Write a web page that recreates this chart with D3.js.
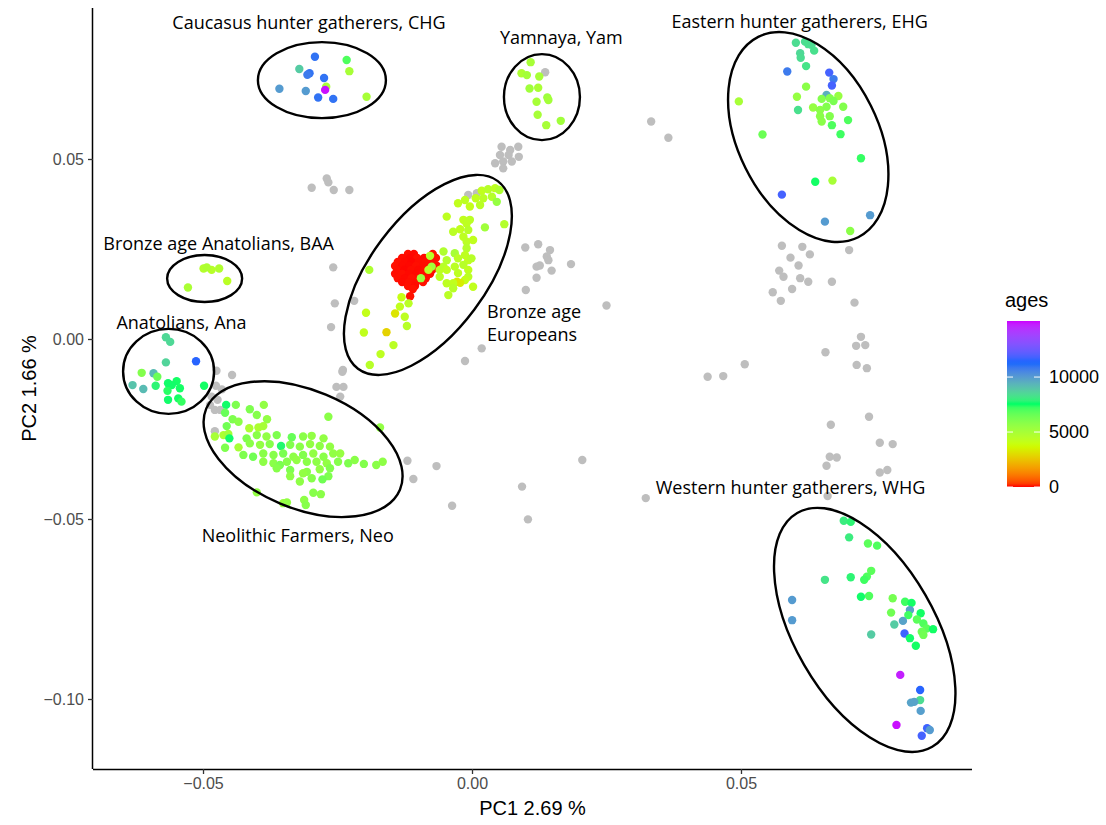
<!DOCTYPE html>
<html>
<head>
<meta charset="utf-8">
<script src="https://cdn.jsdelivr.net/npm/d3@7"></script>
<style>
  body { margin: 0; background: #fff; }
  svg { display: block; }
</style>
</head>
<body>
<svg id="chart" width="1106" height="825"></svg>
<script>
// ---------------------------------------------------------------
// PCA of ancient genomes: PC1 vs PC2, coloured by sample age (years BP)
// Each labelled population: [PC1, PC2, age]
// ---------------------------------------------------------------
const chg = [
  [-0.0292, 0.0784, 11000], [-0.0233, 0.0775, 7000], [-0.0228, 0.0744, 5000],
  [-0.0321, 0.0750, 8800], [-0.0302, 0.0738, 11000], [-0.0306, 0.0734, 10800],
  [-0.0275, 0.0725, 11000], [-0.0358, 0.0695, 10000], [-0.0309, 0.0689, 10000],
  [-0.0271, 0.0701, 5000], [-0.0286, 0.0671, 11000], [-0.0258, 0.0667, 11000],
  [-0.0196, 0.0673, 5000], [-0.0273, 0.0692, 15000]
];

const yamnaya = [
  [0.0109, 0.0769, 5000], [0.0092, 0.0738, 4800], [0.0102, 0.0733, 5100],
  [0.0125, 0.0729, 5000], [0.0107, 0.0696, 5200], [0.0123, 0.0698, 4900],
  [0.0120, 0.0659, 5000], [0.0140, 0.0671, 5300], [0.0142, 0.0664, 5100],
  [0.0122, 0.0623, 5000], [0.0138, 0.0594, 5000], [0.0165, 0.0606, 5200]
];

const ehg = [
  [0.0602, 0.0823, 8400], [0.0619, 0.0826, 8400], [0.0625, 0.0819, 8300],
  [0.0631, 0.0817, 8400], [0.0636, 0.0801, 8300], [0.0610, 0.0794, 8500],
  [0.0611, 0.0781, 8400], [0.0621, 0.0758, 8200], [0.0586, 0.0743, 10800],
  [0.0664, 0.0740, 11800], [0.0672, 0.0722, 10800], [0.0669, 0.0704, 11800],
  [0.0621, 0.0701, 5800], [0.0496, 0.0660, 5000], [0.0604, 0.0673, 5500],
  [0.0659, 0.0678, 9500], [0.0650, 0.0667, 6000], [0.0665, 0.0669, 6000],
  [0.0681, 0.0675, 5500], [0.0672, 0.0661, 6200], [0.0634, 0.0643, 5500],
  [0.0647, 0.0636, 5800], [0.0659, 0.0645, 6000], [0.0690, 0.0645, 6000],
  [0.0606, 0.0636, 8300], [0.0647, 0.0619, 5800], [0.0665, 0.0619, 6000],
  [0.0650, 0.0604, 5800], [0.0669, 0.0594, 7000], [0.0699, 0.0608, 7000],
  [0.0540, 0.0568, 6500], [0.0685, 0.0569, 7200], [0.0723, 0.0502, 7300],
  [0.0638, 0.0437, 7500], [0.0670, 0.0440, 5000], [0.0576, 0.0401, 11800],
  [0.0740, 0.0344, 10000], [0.0656, 0.0326, 10000], [0.0703, 0.0300, 5800]
];

const baa = [
  [-0.0499, 0.0196, 4600], [-0.0484, 0.0192, 4500], [-0.0470, 0.0196, 4700],
  [-0.0493, 0.0199, 4800], [-0.0455, 0.0161, 4400], [-0.0528, 0.0143, 4900]
];

const anatolians = [
  [-0.0569, 0.0005, 8500], [-0.0561, -0.0008, 8500], [-0.0513, -0.0062, 11500],
  [-0.0569, -0.0065, 8600], [-0.0614, -0.0094, 6000], [-0.0592, -0.0095, 9200],
  [-0.0585, -0.0105, 6500], [-0.0631, -0.0128, 9000], [-0.0611, -0.0139, 9200],
  [-0.0588, -0.0130, 7800], [-0.0565, -0.0123, 7600], [-0.0549, -0.0117, 7500],
  [-0.0558, -0.0128, 7600], [-0.0543, -0.0137, 7500], [-0.0498, -0.0130, 7500],
  [-0.0566, -0.0144, 7400], [-0.0565, -0.0169, 7600], [-0.0546, -0.0165, 7500],
  [-0.0540, -0.0174, 7300]
];

const neolithic = [
  [-0.0457, -0.0183, 7600], [-0.0439, -0.0183, 6100], [-0.0413, -0.0195, 6100],
  [-0.0387, -0.0183, 5600], [-0.0459, -0.0205, 6600], [-0.0445, -0.0223, 6100],
  [-0.0434, -0.0230, 5800], [-0.0400, -0.0211, 5900], [-0.0381, -0.0223, 5600],
  [-0.0267, -0.0216, 5800], [-0.0171, -0.0246, 5600], [-0.0456, -0.0242, 6400],
  [-0.0414, -0.0248, 4800], [-0.0397, -0.0246, 4800], [-0.0388, -0.0242, 5000],
  [-0.0478, -0.0271, 5000], [-0.0462, -0.0267, 4800], [-0.0453, -0.0264, 5100],
  [-0.0451, -0.0276, 7600], [-0.0419, -0.0276, 6100], [-0.0400, -0.0267, 5800],
  [-0.0382, -0.0271, 5600], [-0.0363, -0.0267, 6100], [-0.0335, -0.0273, 6600],
  [-0.0314, -0.0271, 5800], [-0.0298, -0.0269, 5600], [-0.0276, -0.0276, 5600],
  [-0.0434, -0.0301, 5000], [-0.0459, -0.0302, 6100], [-0.0413, -0.0290, 5800],
  [-0.0394, -0.0294, 5600], [-0.0376, -0.0292, 5900], [-0.0355, -0.0297, 7700],
  [-0.0338, -0.0294, 6000], [-0.0320, -0.0299, 5800], [-0.0301, -0.0292, 5600],
  [-0.0283, -0.0297, 5700], [-0.0264, -0.0299, 5600], [-0.0425, -0.0322, 6100],
  [-0.0407, -0.0327, 6400], [-0.0388, -0.0318, 5800], [-0.0369, -0.0322, 5900],
  [-0.0351, -0.0318, 6200], [-0.0332, -0.0327, 5700], [-0.0314, -0.0322, 6000],
  [-0.0295, -0.0318, 5600], [-0.0276, -0.0327, 5800], [-0.0258, -0.0318, 5600],
  [-0.0245, -0.0318, 5500], [-0.0388, -0.0341, 5700], [-0.0369, -0.0345, 5800],
  [-0.0357, -0.0350, 6200], [-0.0344, -0.0341, 5900], [-0.0326, -0.0336, 5600],
  [-0.0307, -0.0341, 5800], [-0.0289, -0.0341, 5700], [-0.0270, -0.0345, 5600],
  [-0.0249, -0.0341, 5900], [-0.0230, -0.0345, 6100], [-0.0218, -0.0336, 5800],
  [-0.0201, -0.0347, 6000], [-0.0178, -0.0350, 5800], [-0.0166, -0.0341, 5700],
  [-0.0363, -0.0359, 5900], [-0.0338, -0.0364, 6100], [-0.0307, -0.0369, 5800],
  [-0.0283, -0.0362, 5600], [-0.0264, -0.0359, 6000], [-0.0338, -0.0381, 5700],
  [-0.0314, -0.0373, 5600], [-0.0298, -0.0387, 5900], [-0.0267, -0.0381, 6100],
  [-0.0320, -0.0396, 5700], [-0.0278, -0.0390, 6400], [-0.0400, -0.0426, 5600],
  [-0.0295, -0.0427, 5900], [-0.0281, -0.0431, 5800], [-0.0351, -0.0456, 5400],
  [-0.0344, -0.0454, 5600], [-0.0312, -0.0447, 5700], [-0.0309, -0.0461, 5900]
];

// Bronze age Europeans: the recent (red) core and the older spread
const bronzeAgeEuropeans = [
  [-0.0119, 0.0236, 30], [-0.0108, 0.0236, 20], [-0.0073, 0.0236, 40],
  [-0.0130, 0.0225, 25], [-0.0115, 0.0225, 15], [-0.0102, 0.0225, 35],
  [-0.0089, 0.0225, 20], [-0.0078, 0.0225, 30], [-0.0067, 0.0225, 45],
  [-0.0138, 0.0214, 30], [-0.0125, 0.0214, 20], [-0.0112, 0.0214, 10],
  [-0.0099, 0.0214, 25], [-0.0086, 0.0214, 30], [-0.0073, 0.0214, 40],
  [-0.0143, 0.0203, 35], [-0.0130, 0.0203, 20], [-0.0117, 0.0203, 15],
  [-0.0104, 0.0203, 30], [-0.0091, 0.0203, 25], [-0.0078, 0.0203, 20],
  [-0.0065, 0.0203, 40], [-0.0139, 0.0192, 30], [-0.0126, 0.0192, 10],
  [-0.0113, 0.0192, 25], [-0.0100, 0.0192, 20], [-0.0087, 0.0192, 30],
  [-0.0074, 0.0192, 35], [-0.0143, 0.0181, 25], [-0.0130, 0.0181, 30],
  [-0.0117, 0.0181, 20], [-0.0104, 0.0181, 15], [-0.0091, 0.0181, 30],
  [-0.0078, 0.0181, 25], [-0.0138, 0.0169, 30], [-0.0125, 0.0169, 20],
  [-0.0112, 0.0169, 35], [-0.0099, 0.0169, 25], [-0.0086, 0.0169, 30],
  [-0.0130, 0.0158, 20], [-0.0117, 0.0158, 30], [-0.0104, 0.0158, 25],
  [-0.0091, 0.0158, 40], [-0.0119, 0.0147, 30], [-0.0106, 0.0147, 20],
  [-0.0110, 0.0139, 35], [-0.0115, 0.0119, 40],
  [0.0018, 0.0412, 4200], [0.0030, 0.0416, 4500], [0.0043, 0.0419, 4300],
  [0.0051, 0.0414, 4800], [0.0007, 0.0391, 4200], [0.0021, 0.0391, 4400],
  [0.0037, 0.0395, 4600], [0.0046, 0.0381, 5500], [-0.0026, 0.0377, 4200],
  [-0.0013, 0.0386, 4300], [-0.0004, 0.0368, 4100], [0.0015, 0.0372, 4400],
  [-0.0047, 0.0340, 4300], [-0.0016, 0.0331, 4200], [-0.0004, 0.0331, 4400],
  [-0.0010, 0.0321, 4300], [0.0024, 0.0310, 5200], [0.0060, 0.0319, 4600],
  [-0.0035, 0.0298, 4400], [-0.0022, 0.0305, 4200], [-0.0007, 0.0303, 4500],
  [-0.0016, 0.0284, 4300], [-0.0010, 0.0270, 4400], [0.0002, 0.0275, 4200],
  [-0.0010, 0.0252, 4600], [-0.0053, 0.0243, 4700], [-0.0032, 0.0238, 5000],
  [-0.0013, 0.0233, 4300], [-0.0026, 0.0224, 4400], [-0.0007, 0.0219, 4200],
  [-0.0001, 0.0224, 4500], [-0.0047, 0.0219, 4600], [-0.0078, 0.0231, 4500],
  [-0.0075, 0.0201, 5200], [-0.0081, 0.0192, 4400], [-0.0060, 0.0192, 4300],
  [-0.0053, 0.0201, 4500], [-0.0047, 0.0192, 4200], [-0.0032, 0.0201, 4400],
  [-0.0026, 0.0183, 4300], [-0.0016, 0.0206, 4500], [-0.0007, 0.0192, 4200],
  [-0.0007, 0.0173, 4400], [-0.0013, 0.0164, 4100], [-0.0022, 0.0156, 3400],
  [-0.0028, 0.0159, 3300], [-0.0035, 0.0155, 4200], [-0.0060, 0.0173, 4400],
  [-0.0047, 0.0155, 4300], [-0.0035, 0.0141, 4500], [-0.0044, 0.0122, 4400],
  [0.0002, 0.0145, 4200], [-0.0095, 0.0169, 5300], [-0.0191, 0.0192, 4800],
  [-0.0131, 0.0116, 4000], [-0.0134, 0.0090, 4200], [-0.0118, 0.0099, 4400],
  [-0.0143, 0.0071, 3200], [-0.0125, 0.0062, 4300], [-0.0121, 0.0036, 4500],
  [-0.0197, 0.0073, 4100], [-0.0201, 0.0018, 4200], [-0.0159, 0.0019, 2800],
  [-0.0146, -0.0017, 4400], [-0.0170, -0.0042, 4300], [-0.0190, -0.0072, 4500]
];

const whg = [
  [0.0691, -0.0505, 8000], [0.0704, -0.0508, 7800], [0.0701, -0.0551, 8000],
  [0.0736, -0.0568, 6800], [0.0753, -0.0574, 7000], [0.0742, -0.0644, 6800],
  [0.0734, -0.0660, 7000], [0.0729, -0.0669, 7200], [0.0704, -0.0662, 7800],
  [0.0656, -0.0669, 8200], [0.0723, -0.0716, 7600], [0.0738, -0.0714, 7000],
  [0.0595, -0.0725, 10000], [0.0595, -0.0781, 10000], [0.0782, -0.0720, 6300],
  [0.0805, -0.0730, 7200], [0.0817, -0.0733, 7500], [0.0779, -0.0760, 6400],
  [0.0814, -0.0753, 9800], [0.0811, -0.0767, 7200], [0.0834, -0.0762, 7500],
  [0.0827, -0.0779, 6800], [0.0839, -0.0790, 7000], [0.0845, -0.0804, 6800],
  [0.0857, -0.0806, 7500], [0.0836, -0.0813, 6500], [0.0839, -0.0822, 6400],
  [0.0785, -0.0793, 8800], [0.0801, -0.0783, 9800], [0.0804, -0.0818, 11700],
  [0.0814, -0.0831, 7600], [0.0825, -0.0852, 7500], [0.0742, -0.0821, 8800],
  [0.0796, -0.0933, 14800], [0.0833, -0.0975, 11500], [0.0833, -0.1003, 8400],
  [0.0816, -0.1010, 9800], [0.0822, -0.1008, 9800], [0.0834, -0.1033, 9900],
  [0.0789, -0.1072, 15000], [0.0846, -0.1081, 11700], [0.0851, -0.1086, 10000],
  [0.0836, -0.1102, 11800]
];

// Unassigned samples, drawn in grey underneath: [PC1, PC2]
const otherSamples = [
  [0.0136, 0.0741], [0.0055, 0.0534], [0.0071, 0.0525], [0.0086, 0.0534],
  [0.0052, 0.0511], [0.0068, 0.0511], [0.0087, 0.0506], [0.0043, 0.0488],
  [0.0058, 0.0493], [0.0074, 0.0493], [0.0058, 0.0474], [-0.0007, 0.0400],
  [0.0009, 0.0405], [0.0333, 0.0604], [0.0365, 0.0559], [0.0099, 0.0254],
  [0.0123, 0.0263], [0.0145, 0.0247], [0.0139, 0.0229], [0.0142, 0.0219],
  [0.0120, 0.0201], [0.0126, 0.0204], [0.0148, 0.0190], [0.0184, 0.0208],
  [0.0120, 0.0170], [0.0100, 0.0136], [0.0250, 0.0093], [0.0018, -0.0026],
  [-0.0013, -0.0061], [0.0576, 0.0259], [0.0614, 0.0256], [0.0628, 0.0235],
  [0.0592, 0.0226], [0.0607, 0.0204], [0.0571, 0.0190], [0.0579, 0.0173],
  [0.0610, 0.0169], [0.0625, 0.0159], [0.0701, 0.0247], [0.0595, 0.0139],
  [0.0559, 0.0130], [0.0574, 0.0106], [0.0669, 0.0159], [0.0711, 0.0101],
  [0.0723, 0.0006], [0.0714, -0.0019], [0.0731, -0.0017], [0.0657, -0.0037],
  [0.0715, -0.0072], [0.0734, -0.0081], [0.0507, -0.0070], [0.0438, -0.0105],
  [0.0467, -0.0103], [-0.0120, -0.0338], [-0.0066, -0.0353], [-0.0109, -0.0389],
  [-0.0037, -0.0463], [0.0093, -0.0410], [0.0104, -0.0501], [0.0205, -0.0336],
  [0.0323, -0.0442], [0.0667, -0.0238], [0.0738, -0.0216], [0.0758, -0.0288],
  [0.0782, -0.0292], [0.0665, -0.0327], [0.0678, -0.0329], [0.0659, -0.0352],
  [0.0758, -0.0371], [0.0772, -0.0364], [0.0661, -0.0436], [-0.0298, 0.0420],
  [-0.0270, 0.0446], [-0.0267, 0.0435], [-0.0257, 0.0414], [-0.0228, 0.0414],
  [-0.0258, 0.0199], [-0.0255, 0.0099], [-0.0219, 0.0106], [-0.0262, 0.0033],
  [-0.0240, -0.0086], [-0.0475, -0.0088], [-0.0446, -0.0100], [-0.0476, -0.0130],
  [-0.0465, -0.0140], [-0.0484, -0.0160], [-0.0473, -0.0169], [-0.0487, -0.0183],
  [-0.0478, -0.0197], [-0.0468, -0.0197], [-0.0478, -0.0256], [-0.0241, -0.0091],
  [-0.0252, -0.0133], [-0.0239, -0.0133], [-0.0245, -0.0160]
];

const groups = [bronzeAgeEuropeans, neolithic, anatolians, baa, yamnaya, chg, ehg, whg];

const ageBreaks = [0, 5000, 10000];
const ageLimits = [0, 15100];
// rainbow(5) palette, blended in CIELAB as ggplot's gradientn does
const ageColours = ["#FF0000", "#CCFF00", "#00FF66", "#0066FF", "#CC00FF"];

// Hand-drawn outlines around populations: centre in PC units, radii in px
const outlines = [
  { cx: -0.0279, cy: 0.0719, rx: 64, ry: 38, rot: 0 },
  { cx: 0.0130, cy: 0.0672, rx: 38, ry: 43, rot: 0 },
  { cx: 0.0625, cy: 0.0561, rx: 70, ry: 112, rot: -26.5 },
  { cx: -0.0082, cy: 0.0178, rx: 58, ry: 117, rot: 36.7 },
  { cx: -0.0497, cy: 0.0168, rx: 37.5, ry: 23.5, rot: 0 },
  { cx: -0.0564, cy: -0.0090, rx: 45.5, ry: 42.5, rot: 0 },
  { cx: -0.0314, cy: -0.0306, rx: 105, ry: 59, rot: 22.7 },
  { cx: 0.0730, cy: -0.0808, rx: 70, ry: 135, rot: -30 }
];

const labels = [
  { text: "Caucasus hunter gatherers, CHG", x: -0.0303, y: 0.0881, anchor: "middle" },
  { text: "Yamnaya, Yam", x: 0.0166, y: 0.0839, anchor: "middle" },
  { text: "Eastern hunter gatherers, EHG", x: 0.0609, y: 0.0883, anchor: "middle" },
  { text: "Bronze age Anatolians, BAA", x: -0.0471, y: 0.0267, anchor: "middle" },
  { text: "Anatolians, Ana", x: -0.0540, y: 0.0047, anchor: "middle" },
  { text: "Bronze age", x: 0.0028, y: 0.0078, anchor: "start" },
  { text: "Europeans", x: 0.0028, y: 0.0014, anchor: "start" },
  { text: "Neolithic Farmers, Neo", x: -0.0324, y: -0.0544, anchor: "middle" },
  { text: "Western hunter gatherers, WHG", x: 0.0592, y: -0.0411, anchor: "middle" }
];

const xTicks = [-0.05, 0, 0.05];
const yTicks = [-0.10, -0.05, 0, 0.05];

// ---------------------------------------------------------------
const svg = d3.select("#chart");
const panel = { left: 93, right: 972, top: 8, bottom: 769 };

const x = d3.scaleLinear().domain([-0.07045, 0.09294]).range([panel.left, panel.right]);
const y = d3.scaleLinear().domain([-0.119444, 0.091944]).range([panel.bottom, panel.top]);

const colour = d3.scaleLinear()
  .domain(ageColours.map((c, i) => ageLimits[0] + (ageLimits[1] - ageLimits[0]) * i / (ageColours.length - 1)))
  .range(ageColours)
  .interpolate(d3.interpolateLab)
  .clamp(true);

const fmt = d3.format(".2f");
const tickFont = "'Liberation Sans', Arial, sans-serif";

// axes
const xAxis = svg.append("g")
  .attr("transform", `translate(0,${panel.bottom})`)
  .call(d3.axisBottom(x).tickValues(xTicks).tickFormat(fmt).tickSize(5).tickSizeOuter(0).tickPadding(4));
const yAxis = svg.append("g")
  .attr("transform", `translate(${panel.left},0)`)
  .call(d3.axisLeft(y).tickValues(yTicks).tickFormat(fmt).tickSize(5).tickSizeOuter(0).tickPadding(4));

[xAxis, yAxis].forEach(g => {
  g.select(".domain").attr("stroke", "#000").attr("stroke-width", 1.5);
  g.selectAll(".tick line").attr("stroke", "#333").attr("stroke-width", 1.3);
  g.selectAll(".tick text")
    .attr("fill", "#4d4d4d")
    .style("font-family", tickFont)
    .style("font-size", "16px");
});

// extend axis lines across the full panel
xAxis.select(".domain").attr("d", `M${panel.left},0.5H${panel.right}`);
yAxis.select(".domain").attr("d", `M-0.5,${panel.bottom}V${panel.top}`);

svg.append("text")
  .attr("x", (panel.left + panel.right) / 2)
  .attr("y", 815)
  .attr("text-anchor", "middle")
  .style("font-family", tickFont)
  .style("font-size", "20px")
  .text("PC1 2.69 %");

svg.append("text")
  .attr("transform", `translate(36,${(panel.top + panel.bottom) / 2}) rotate(-90)`)
  .attr("text-anchor", "middle")
  .style("font-family", tickFont)
  .style("font-size", "20px")
  .text("PC2 1.66 %");

// points
const plot = svg.append("g");
plot.append("g").selectAll("circle")
  .data(otherSamples)
  .join("circle")
  .attr("cx", d => x(d[0]))
  .attr("cy", d => y(d[1]))
  .attr("r", 4.2)
  .attr("fill", "#bebebe");

groups.forEach(g => {
  plot.append("g").selectAll("circle")
    .data(g)
    .join("circle")
    .attr("cx", d => x(d[0]))
    .attr("cy", d => y(d[1]))
    .attr("r", 4.2)
    .attr("fill", d => colour(d[2]));
});

// outlines
svg.append("g").selectAll("ellipse")
  .data(outlines)
  .join("ellipse")
  .attr("transform", d => `translate(${x(d.cx)},${y(d.cy)}) rotate(${d.rot})`)
  .attr("rx", d => d.rx)
  .attr("ry", d => d.ry)
  .attr("fill", "none")
  .attr("stroke", "#000")
  .attr("stroke-width", 2.4);

// labels
svg.append("g").selectAll("text")
  .data(labels)
  .join("text")
  .attr("x", d => x(d.x))
  .attr("y", d => y(d.y))
  .attr("text-anchor", d => d.anchor)
  .attr("dominant-baseline", "central")
  .style("font-family", "'Open Sans', sans-serif")
  .style("font-size", "18px")
  .attr("fill", "#000")
  .text(d => d.text);

// colour bar legend
const bar = { x: 1007, width: 33, top: 321, bottom: 487 };
const barScale = d3.scaleLinear().domain(ageLimits).range([bar.bottom, bar.top]);

const grad = svg.append("defs").append("linearGradient")
  .attr("id", "ageGradient")
  .attr("x1", 0).attr("y1", 1).attr("x2", 0).attr("y2", 0);
d3.range(0, 1.0001, 0.02).forEach(t => {
  grad.append("stop")
    .attr("offset", t)
    .attr("stop-color", colour(ageLimits[0] + t * (ageLimits[1] - ageLimits[0])));
});

const legend = svg.append("g");
legend.append("text")
  .attr("x", bar.x - 2)
  .attr("y", 307)
  .style("font-family", tickFont)
  .style("font-size", "20px")
  .text("ages");

legend.append("rect")
  .attr("x", bar.x)
  .attr("y", bar.top)
  .attr("width", bar.width)
  .attr("height", bar.bottom - bar.top)
  .attr("fill", "url(#ageGradient)");

ageBreaks.forEach(b => {
  const ty = barScale(b);
  [[bar.x, bar.x + 6], [bar.x + bar.width - 6, bar.x + bar.width]].forEach(([a, c]) => {
    legend.append("line")
      .attr("x1", a).attr("x2", c)
      .attr("y1", ty).attr("y2", ty)
      .attr("stroke", "#fff")
      .attr("stroke-opacity", 0.8)
      .attr("stroke-width", 1.2);
  });
  legend.append("text")
    .attr("x", bar.x + bar.width + 9)
    .attr("y", ty)
    .attr("dominant-baseline", "central")
    .style("font-family", tickFont)
    .style("font-size", "18px")
    .text(b);
});
</script>
</body>
</html>
